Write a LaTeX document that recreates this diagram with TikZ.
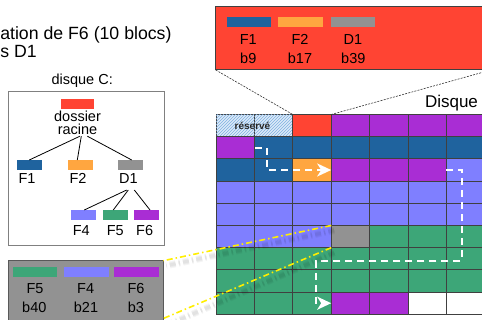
\documentclass[tikz,border=0pt]{standalone}
\usepackage{fontspec}
\setmainfont{Liberation Sans}
\usetikzlibrary{arrows.meta,patterns,calc}
\definecolor{cred}{HTML}{FF4433}
\definecolor{cblu}{HTML}{1F639E}
\definecolor{cora}{HTML}{FFA640}
\definecolor{cgry}{HTML}{929292}
\definecolor{cper}{HTML}{7F7FFF}
\definecolor{cgrn}{HTML}{3DA678}
\definecolor{cpur}{HTML}{A92DD4}
\definecolor{resb}{HTML}{DCEAF8}
\definecolor{hatch}{HTML}{7FB0E0}
\definecolor{gridc}{HTML}{404040}
\definecolor{ylw}{HTML}{FFEE00}
\newcommand\gridrow[2]{\foreach \k [count=\c from 0] in {#2}{\node[cell,\k] (c\c-#1) at ({235.2+38.4*\c},{125.6+22.2*#1}) {};}}
\begin{document}
\begin{tikzpicture}[x=1pt,y=-1pt,
 cell/.style={draw=gridc,line width=0.9pt,minimum width=38.4pt,minimum height=22.2pt,inner sep=0pt,outer sep=0pt},
 Kred/.style={fill=cred}, Kblu/.style={fill=cblu}, Kora/.style={fill=cora},
 Kgry/.style={fill=cgry}, Kper/.style={fill=cper}, Kgrn/.style={fill=cgrn},
 Kpur/.style={fill=cpur}, Kwht/.style={fill=white},
 Kres/.style={fill=resb,postaction={pattern=north east lines,pattern color=hatch}},
 lbl/.style={inner sep=0pt,outer sep=0pt,anchor=base,font=\fontsize{14.5}{15}\selectfont},
 bigl/.style={inner sep=0pt,outer sep=0pt,font=\fontsize{17}{18}\selectfont},
 bar/.style={inner sep=0pt,outer sep=0pt,minimum height=10pt},
 conn/.style={line width=0.8pt},
 flow/.style={draw=white,line width=2pt,dash pattern=on 7pt off 5pt,-{Stealth[length=14pt,width=13pt,inset=4pt,fill=white]}},
 zoomln/.style={draw=ylw,line width=1.6pt,dash pattern=on 6pt off 3pt on 1.5pt off 3pt},
 shad/.style={draw=black,opacity=0.04,dash pattern=on 6pt off 3pt on 1.5pt off 3pt},
 pointer/.style={draw=black!80,line width=0.6pt,dash pattern=on 2pt off 1.2pt}
]
\useasboundingbox (0,0) rectangle (482,320);
\clip (0,0) rectangle (482,320);

% title
\node[bigl,anchor=base west,font=\fontsize{17.7}{18}\selectfont] (title1) at (0.3,39.3) {ation de F6 (10 blocs)};
\node[bigl,anchor=base west,font=\fontsize{17.7}{18}\selectfont] (title2) at (0.3,57.7) {s D1};

% tree box
\node[lbl] (disqC) at (82.2,85) {disque C:};
\node[draw=black!50,line width=1pt,minimum width=155.7pt,minimum height=153.7pt,inner sep=0pt] (treebox) at (86.15,168.85) {};
\node[bar,fill=cred,minimum width=33pt] (rootbar) at (77.5,104.2) {};
\node[inner sep=0pt,outer sep=0pt,align=center,font=\fontsize{14.5}{13.3}\selectfont] (rootlbl) at (77.5,122.7) {dossier\\racine};
\node[bar,fill=cblu,minimum width=25.3pt] (f1bar) at (29.3,165) {};
\node[bar,fill=cora,minimum width=25.3pt] (f2bar) at (80.3,165) {};
\node[bar,fill=cgry,minimum width=25pt] (d1bar) at (130.5,165) {};
\node[lbl] (f1lbl) at (27,184) {F1};
\node[lbl] (f2lbl) at (78,184) {F2};
\node[lbl] (d1lbl) at (128.3,184) {D1};
\node[bar,fill=cper,minimum width=25pt] (f4bar) at (83.5,215) {};
\node[bar,fill=cgrn,minimum width=25pt] (f5bar) at (115.5,215) {};
\node[bar,fill=cpur,minimum width=25pt] (f6bar) at (146.5,215) {};
\node[lbl] (f4lbl) at (81.3,235.7) {F4};
\node[lbl] (f5lbl) at (115.3,235.7) {F5};
\node[lbl] (f6lbl) at (144.7,235.7) {F6};
\draw[conn] ([xshift=2.5pt,yshift=-1.5pt]rootlbl.south) -- (f1bar.north);
\draw[conn] ([xshift=3.8pt,yshift=-1.5pt]rootlbl.south) -- ([xshift=-3pt]f2bar.north);
\draw[conn] ([xshift=9.8pt,yshift=-1.5pt]rootlbl.south) -- ([xshift=1.2pt]d1bar.north);
\draw[conn] ([xshift=-1.6pt,yshift=-6pt]d1lbl.south) -- ([xshift=0.8pt]f4bar.north);
\draw[conn] ([xshift=0pt,yshift=-6pt]d1lbl.south) -- ([xshift=-2.2pt]f5bar.north);
\draw[conn] ([xshift=6pt,yshift=-6pt]d1lbl.south) -- ([xshift=3.5pt]f6bar.north);

% bottom box (D1 content)
\node[draw=black!65,fill=cgry,line width=1.2pt,minimum width=155pt,minimum height=59.8pt,inner sep=0pt,outer sep=0pt] (d1box) at (85.8,290.6) {};
\node[bar,fill=cgrn,minimum width=43.4pt,minimum height=9.4pt] (b5bar) at (35,272) {};
\node[bar,fill=cper,minimum width=45pt,minimum height=9.4pt] (b4bar) at (86.5,272) {};
\node[bar,fill=cpur,minimum width=45pt,minimum height=9.4pt] (b6bar) at (136.5,272) {};
\node[lbl] (bf5) at (35,293.3) {F5};
\node[lbl] (bf4) at (85.7,293.3) {F4};
\node[lbl] (bf6) at (136,293.3) {F6};
\node[lbl] (bb40) at (34.3,312.3) {b40};
\node[lbl] (bb21) at (86,312.3) {b21};
\node[lbl] (bb3) at (136,312.3) {b3};

% top box (root directory content)
\node[draw=black!75,fill=cred,line width=1pt,minimum width=275.3pt,minimum height=63.3pt,inner sep=0pt,outer sep=0pt] (rootbox) at (353.35,38.35) {};
\node[bar,fill=cblu,minimum width=44.3pt] (t1bar) at (248.8,21.7) {};
\node[bar,fill=cora,minimum width=45pt] (t2bar) at (300.2,21.7) {};
\node[bar,fill=cgry,minimum width=44pt] (t3bar) at (353,21.7) {};
\node[lbl] (tf1) at (248.3,44.3) {F1};
\node[lbl] (tf2) at (300,44.3) {F2};
\node[lbl] (td1) at (353,44.3) {D1};
\node[lbl] (tb9) at (248.3,63.3) {b9};
\node[lbl] (tb17) at (300,63.3) {b17};
\node[lbl] (tb39) at (353.3,63.3) {b39};

% disk label
\node[bigl,anchor=base west] (disque) at (425,107.3) {Disque};

% grid
\gridrow{0}{Kres,Kres,Kred,Kpur,Kpur,Kpur,Kpur}
\gridrow{1}{Kpur,Kblu,Kblu,Kblu,Kblu,Kblu,Kblu}
\gridrow{2}{Kblu,Kblu,Kora,Kpur,Kpur,Kpur,Kper}
\gridrow{3}{Kper,Kper,Kper,Kper,Kper,Kper,Kper}
\gridrow{4}{Kper,Kper,Kper,Kper,Kper,Kper,Kper}
\gridrow{5}{Kper,Kper,Kper,Kgry,Kgrn,Kgrn,Kgrn}
\gridrow{6}{Kgrn,Kgrn,Kgrn,Kgrn,Kgrn,Kgrn,Kgrn}
\gridrow{7}{Kgrn,Kgrn,Kgrn,Kgrn,Kgrn,Kgrn,Kgrn}
\gridrow{8}{Kgrn,Kgrn,Kgrn,Kpur,Kpur,Kwht,Kwht}
\node[inner sep=0pt,font=\bfseries\fontsize{10}{11}\selectfont,text=black!85] (resv) at (252.5,125.6) {réservé};

% pointers from root dir block to its content
\draw[pointer] (rootbox.south west) -- (c2-0.north west);
\draw[pointer] (c2-0.north east) -- (rootbox.south east);

% chains of blocks
\draw[flow] ([xshift=1pt]c1-1.west) -- ++(11.5,0) |- (c3-2.west);
\draw[flow] (c6-2.west) -- ++(15.5,0) -- ++(0,91) -| ($(c3-8.west)+(-15,0)$) -- (c3-8.west);

% zoom lines from D1 block to its content (with soft shadow)
\foreach \w in {7,5,3}{
 \draw[shad,line width=\w pt] ($(c3-5.north west)+(3,5)$) -- ($(d1box.north east)+(3,5)$);
 \draw[shad,line width=\w pt] ($(c3-5.south west)+(3,5)$) -- ($(d1box.south east)+(3,5)$);
}
\draw[zoomln] (c3-5.north west) -- (d1box.north east);
\draw[zoomln] (c3-5.south west) -- ([yshift=2pt]d1box.south east);
\end{tikzpicture}
\end{document}
